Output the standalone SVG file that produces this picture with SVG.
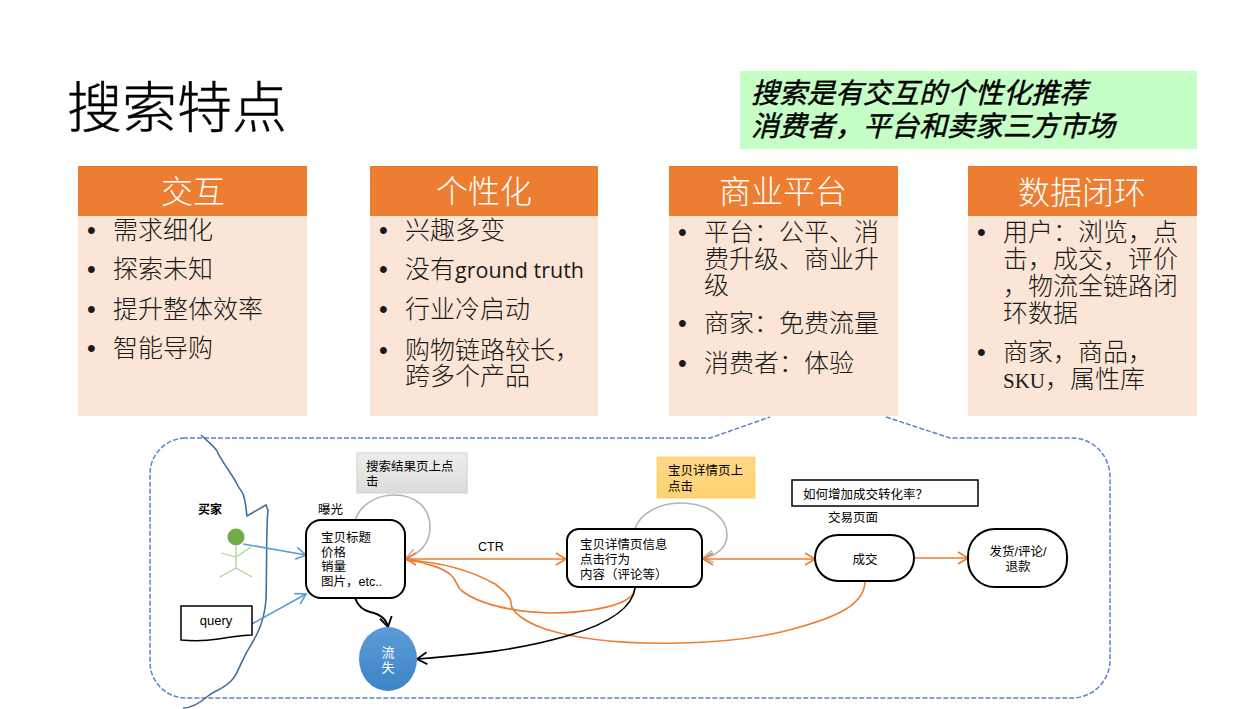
<svg xmlns="http://www.w3.org/2000/svg" width="1260" height="709" viewBox="0 0 1260 709">
<style>
text{font-family:"Liberation Sans","Noto Sans CJK SC",sans-serif;fill:#000}
.h{font-size:32px;fill:#fff;text-anchor:middle;font-family:"Noto Sans CJK SC",sans-serif;font-weight:300}
.b{font-size:25px;fill:#1a1a1a;font-weight:300}
.c{font-size:28px;font-style:italic;stroke:#000;stroke-width:.45}
.s{font-size:12.5px}
.n{fill:#fff;stroke:#000;stroke-width:2}
.hd{fill:#ED7D31}.bd{fill:#FBE5D6}
.o{fill:none;stroke:#ED7D31;stroke-width:1.6}
.g{fill:none;stroke:#B5B5B5;stroke-width:1.6}
.k{fill:none;stroke:#000;stroke-width:1.6}
.u{fill:none;stroke:#5B9BD5;stroke-width:1.6}
</style>
<defs>
<marker id="ao" markerUnits="userSpaceOnUse" markerWidth="14" markerHeight="14" refX="11" refY="7" orient="auto-start-reverse"><path d="M1 1L11 7L1 13" fill="none" stroke="#ED7D31" stroke-width="1.6"/></marker>
<marker id="ag" markerUnits="userSpaceOnUse" markerWidth="14" markerHeight="14" refX="11" refY="7" orient="auto"><path d="M1 1L11 7L1 13" fill="none" stroke="#B5B5B5" stroke-width="1.6"/></marker>
<marker id="ak" markerUnits="userSpaceOnUse" markerWidth="14" markerHeight="14" refX="11" refY="7" orient="auto"><path d="M1 1L11 7L1 13" fill="none" stroke="#000" stroke-width="1.8"/></marker>
<marker id="au" markerUnits="userSpaceOnUse" markerWidth="14" markerHeight="14" refX="11" refY="7" orient="auto"><path d="M1 1L11 7L1 13" fill="none" stroke="#5B9BD5" stroke-width="1.6"/></marker>
<linearGradient id="gg" x1="0" y1="0" x2="0" y2="1"><stop offset="0" stop-color="#EDEDED"/><stop offset="1" stop-color="#DCDCDC"/></linearGradient>
<linearGradient id="gy" x1="0" y1="0" x2="0" y2="1"><stop offset="0" stop-color="#FFD98A"/><stop offset="1" stop-color="#FFD272"/></linearGradient>
<linearGradient id="gb" x1="0" y1="0" x2="0" y2="1"><stop offset="0" stop-color="#5B9BD5"/><stop offset="1" stop-color="#3D85C8"/></linearGradient>
</defs>

<g id="title"><text x="67" y="127" style="font-size:55px;font-family:'Noto Sans CJK SC',sans-serif;font-weight:300;stroke:#000;stroke-width:.4">搜索特点</text></g>
<g id="callout">
<rect x="740" y="71" width="457" height="78" fill="#C6FFC6"/>
<text class="c" x="751" y="103">搜索是有交互的个性化推荐</text>
<text class="c" x="751" y="136">消费者，平台和卖家三方市场</text>
</g>

<g id="col1">
<rect class="hd" x="78" y="166" width="229" height="50"/><rect class="bd" x="78" y="216" width="229" height="200"/>
<text class="h" x="193" y="203">交互</text>
<text class="b" x="87" y="239">•</text><text class="b" x="113" y="239">需求细化</text>
<text class="b" x="87" y="278">•</text><text class="b" x="113" y="278">探索未知</text>
<text class="b" x="87" y="318">•</text><text class="b" x="113" y="318">提升整体效率</text>
<text class="b" x="87" y="357">•</text><text class="b" x="113" y="357">智能导购</text>
</g>
<g id="col2">
<rect class="hd" x="370" y="166" width="228" height="50"/><rect class="bd" x="370" y="216" width="228" height="200"/>
<text class="h" x="484" y="203">个性化</text>
<text class="b" x="379" y="239">•</text><text class="b" x="405" y="239">兴趣多变</text>
<text class="b" x="379" y="278">•</text><text class="b" x="405" y="278">没有<tspan style="font-family:'Open Sans',sans-serif;font-size:21.5px;font-weight:400">ground truth</tspan></text>
<text class="b" x="379" y="318">•</text><text class="b" x="405" y="318">行业冷启动</text>
<text class="b" x="379" y="359">•</text><text class="b" x="405" y="359">购物链路较长，</text>
<text class="b" x="405" y="385">跨多个产品</text>
</g>
<g id="col3">
<rect class="hd" x="669" y="166" width="229" height="50"/><rect class="bd" x="669" y="216" width="229" height="200"/>
<text class="h" x="783" y="203">商业平台</text>
<text class="b" x="678" y="241">•</text><text class="b" x="704" y="241">平台：公平、消</text>
<text class="b" x="704" y="268">费升级、商业升</text>
<text class="b" x="704" y="294">级</text>
<text class="b" x="678" y="332">•</text><text class="b" x="704" y="332">商家：免费流量</text>
<text class="b" x="678" y="372">•</text><text class="b" x="704" y="372">消费者：体验</text>
</g>
<g id="col4">
<rect class="hd" x="968" y="166" width="229" height="50"/><rect class="bd" x="968" y="216" width="229" height="200"/>
<text class="h" x="1082" y="204">数据闭环</text>
<text class="b" x="977" y="241">•</text><text class="b" x="1003" y="241">用户：浏览，点</text>
<text class="b" x="1003" y="268">击，成交，评价</text>
<text class="b" x="1003" y="295">，物流全链路闭</text>
<text class="b" x="1003" y="322">环数据</text>
<text class="b" x="977" y="361">•</text><text class="b" x="1003" y="361">商家，商品，</text>
<text class="b" x="1003" y="388"><tspan style="font-family:'Liberation Serif',serif;font-size:21px;font-weight:400">SKU</tspan>，属性库</text>
</g>

<g id="frame"><path d="M183 438H710L770 417M886 417L950 438H1072A38 39 0 0 1 1110 477V660A38 38 0 0 1 1072 698H186A36 36 0 0 1 150 662V474A36 36 0 0 1 186 438" fill="none" stroke="#5B84C4" stroke-width="1.5" stroke-dasharray="5 2"/></g>

<g id="boundary"><path d="M201 435C208 442 213 445 217 451C222 462 229 470 236 482C239 489 241 490 243 494C246 502 246 510 247 516L266 505L268 510C266 530 267 565 266 600C265 612 263 622 257 634C251 646 247 650 243 660C238 668 238 674 231 681C222 690 215 690 208 696C200 703 192 708 183 708" fill="none" stroke="#41719C" stroke-width="1.6"/></g>

<g id="connectors">
<path class="g" d="M355 521C359 506 375 495 394 495C418 495 430 510 430 527C430 544 419 554 406 558" marker-end="url(#ag)"/>
<path class="g" d="M635 529C640 513 660 503 680 503C712 503 727 520 727 535C727 548 716 556 703 558" marker-end="url(#ag)"/>
<path class="o" d="M406 559H566" marker-start="url(#ao)" marker-end="url(#ao)"/>
<path class="o" d="M703 559H815" marker-start="url(#ao)" marker-end="url(#ao)"/>
<path class="o" d="M915 558H968" marker-end="url(#ao)"/>
<path class="o" d="M406 560C440 562 470 570 495 584C506 592 511 598 511 603C511 612 525 622 545 629C590 643 640 644 680 643C730 642 770 636 800 627C835 617 865 605 865 581"/>
<path class="o" d="M406 560C425 562 443 568 451 575C458 582 456 586 462 591C480 605 515 612 550 613C590 613 635 605 635 588"/>
<path class="k" d="M635 588C632 612 600 626 570 635C520 650 470 655 417 659" marker-end="url(#ak)"/>
<path d="M355 598C358 606 362 610 370 612C380 614 386 618 388 627" fill="none" stroke="#000" stroke-width="2" marker-end="url(#ak)"/>
<path class="u" d="M243 544L306 555" marker-end="url(#au)"/>
<path class="u" d="M252 624L306 594" marker-end="url(#au)"/>
</g>

<g id="buyer"><text x="198" y="514" style="font-size:12px;font-weight:700;font-family:'Noto Sans CJK SC',sans-serif">买家</text>
<circle cx="236" cy="537" r="8.5" fill="#70AD47"/>
<path d="M236 546V568M221 553L236 557M251 547L236 557M236 568L220 577M236 568L252 577" fill="none" stroke="#A9D18E" stroke-width="1.2"/></g>

<g id="query"><path d="M181 606H252V635C230 635 215 643 181 640Z" fill="#fff" stroke="#000" stroke-width="1.5"/><text x="216" y="625" text-anchor="middle" style="font-size:13px">query</text></g>

<g id="exposure"><text class="s" x="318" y="514">曝光</text>
<rect class="n" x="306" y="520" width="99" height="78" rx="15"/>
<text class="s" x="321" y="542">宝贝标题</text><text class="s" x="321" y="557">价格</text><text class="s" x="321" y="571">销量</text><text class="s" x="321" y="586">图片，etc..</text></g>

<g id="lost"><ellipse cx="388" cy="659" rx="29" ry="32" fill="url(#gb)"/><text x="388" y="657" text-anchor="middle" style="fill:#fff;font-size:13px">流</text><text x="388" y="672" text-anchor="middle" style="fill:#fff;font-size:13px">失</text></g>

<g id="note-search"><rect x="357" y="453" width="110" height="40" fill="url(#gg)" stroke="#CFCFCF"/><text class="s" x="366" y="471">搜索结果页上点</text><text class="s" x="366" y="486">击</text></g>

<g id="ctr"><text class="s" x="478" y="551">CTR</text></g>

<g id="detail"><rect class="n" x="567" y="529" width="135" height="58" rx="12"/>
<text class="s" x="580" y="549">宝贝详情页信息</text><text class="s" x="580" y="564">点击行为</text><text class="s" x="580" y="579">内容（评论等）</text></g>

<g id="note-detail"><rect x="657" y="457" width="98" height="41" fill="url(#gy)" stroke="#FFC000" stroke-opacity=".5"/><text class="s" x="668" y="475">宝贝详情页上</text><text class="s" x="668" y="491">点击</text></g>

<g id="note-rate"><rect x="792" y="480" width="186" height="26" fill="#fff" stroke="#000" stroke-width="1.5"/><text class="s" x="803" y="499">如何增加成交转化率？</text></g>

<g id="deal"><text class="s" x="828" y="522">交易页面</text>
<rect class="n" x="815" y="535" width="99" height="46" rx="23"/><text class="s" x="865" y="564" text-anchor="middle">成交</text></g>

<g id="after"><rect class="n" x="968" y="529" width="99" height="58" rx="27"/><text class="s" x="1018" y="556" text-anchor="middle">发货/评论/</text><text class="s" x="1018" y="571" text-anchor="middle">退款</text></g>
</svg>
